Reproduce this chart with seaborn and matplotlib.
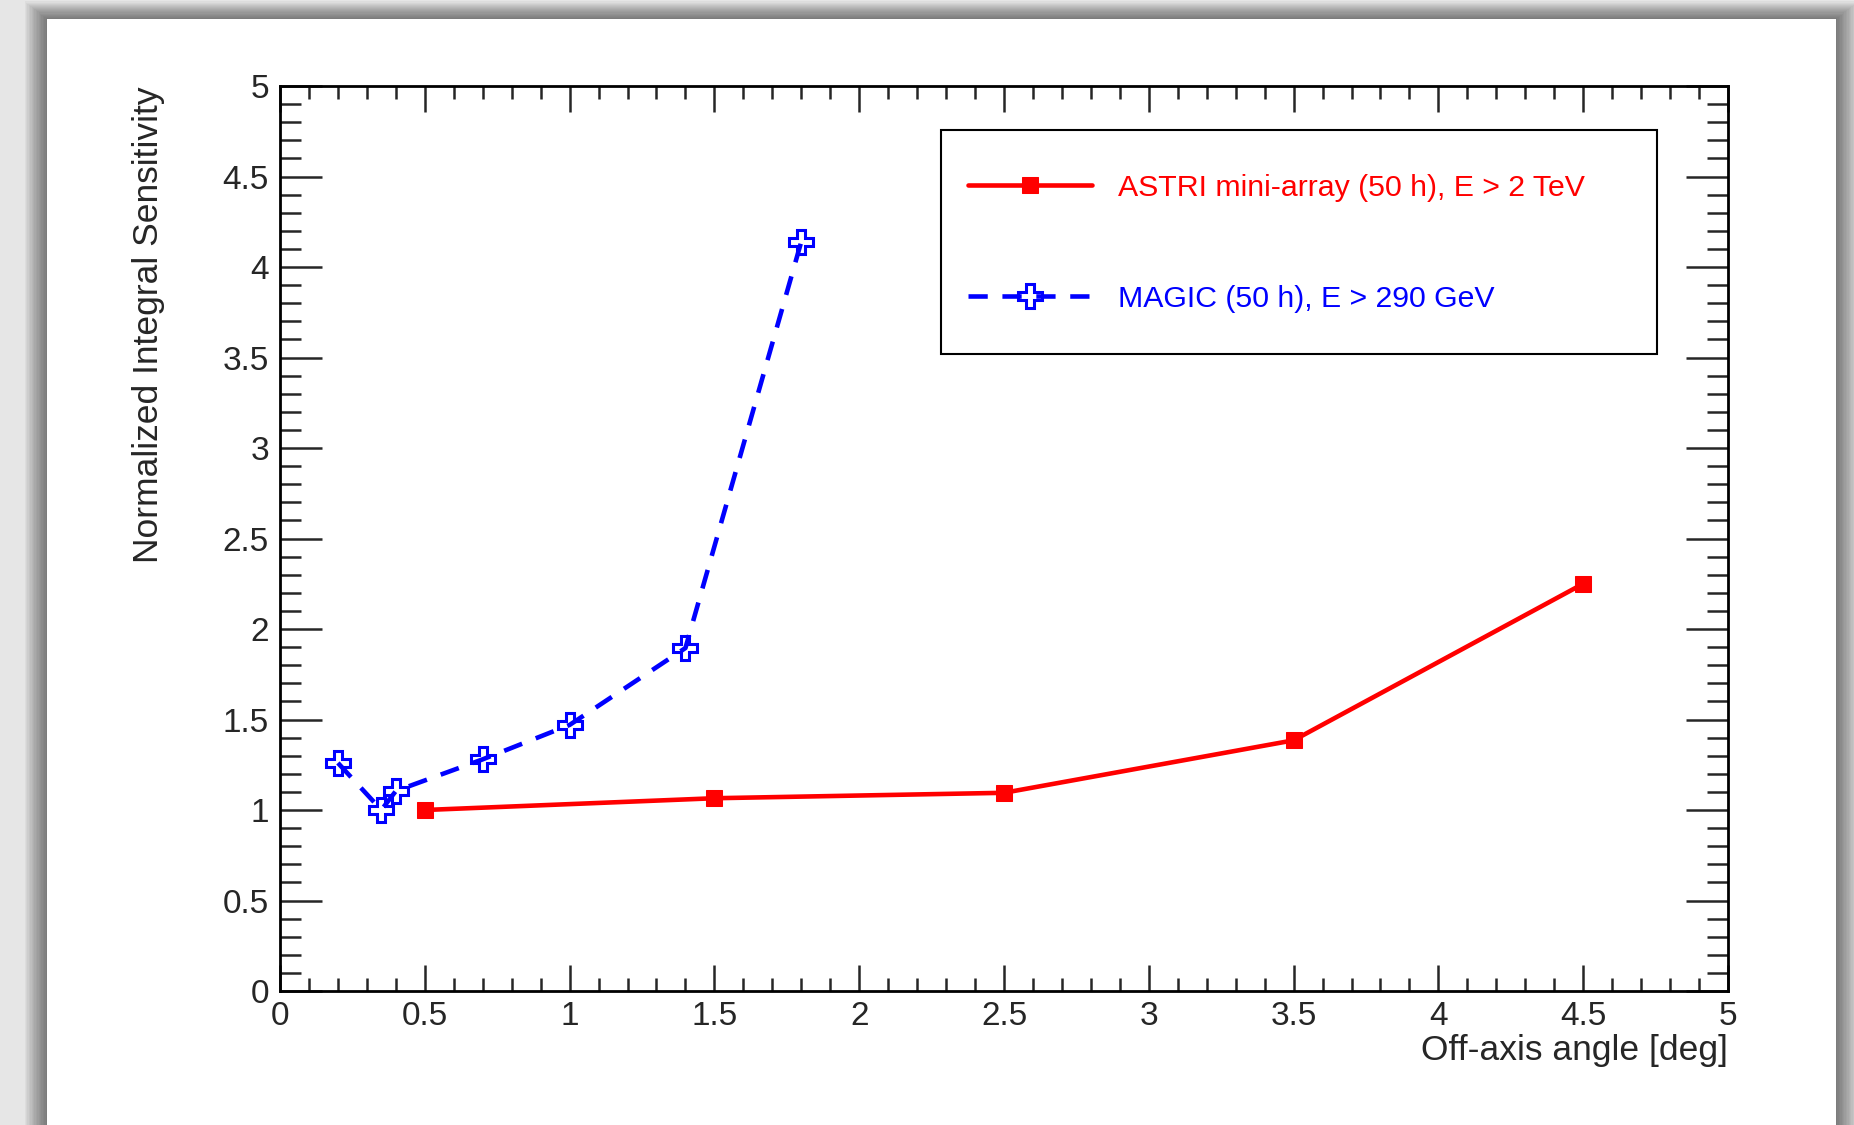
import seaborn as sns
import matplotlib.pyplot as plt
import matplotlib.patches as mpatches
from matplotlib.ticker import MultipleLocator, FormatStrFormatter
import pandas as pd

# ASTRI mini-array (50 h), E > 2 TeV
astri_angle = [0.5, 1.5, 2.5, 3.5, 4.5]
astri_sens = [1.0, 1.065, 1.095, 1.385, 2.25]

# MAGIC (50 h), E > 290 GeV
magic_angle = [0.2, 0.35, 0.4, 0.7, 1.0, 1.4, 1.8]
magic_sens = [1.26, 1.0, 1.105, 1.28, 1.47, 1.895, 4.14]

astri_label = 'ASTRI mini-array (50 h), E > 2 TeV'
magic_label = 'MAGIC (50 h), E > 290 GeV'

sns.set_style('white')
plt.rcParams['font.family'] = ['Liberation Sans', 'DejaVu Sans']

df_astri = pd.DataFrame({'angle': astri_angle, 'sens': astri_sens})
df_magic = pd.DataFrame({'angle': magic_angle, 'sens': magic_sens})

fig = plt.figure(figsize=(18.54, 11.25), dpi=100)
fig.patch.set_facecolor('#e6e6e6')

# grey "shadow" frame around the white canvas (ROOT screenshot look)
cx0, cy0, cx1, cy1 = 47 / 1854, -0.02, 1836 / 1854, 1 - 19 / 1125
for i in range(16, 0, -1):
    dx, dy = i * 1.4 / 1854, i * 1.1 / 1125
    fig.patches.append(mpatches.Rectangle((cx0 - dx, cy0 - dy), cx1 - cx0 + 2 * dx,
                                          cy1 - cy0 + 2 * dy, transform=fig.transFigure,
                                          facecolor='black', alpha=0.035, lw=0, zorder=-20))
fig.patches.append(mpatches.Rectangle((cx0, cy0), cx1 - cx0, cy1 - cy0,
                                      transform=fig.transFigure, facecolor='white',
                                      lw=0, zorder=-10))

ax = fig.add_axes([0.15103, 0.11911, 0.78101, 0.80444])
ax.set_facecolor('white')

sns.lineplot(data=df_astri, x='angle', y='sens', ax=ax, color='red', lw=3.3,
             marker='s', markersize=11, markeredgecolor='red', markerfacecolor='red',
             label=astri_label)
sns.lineplot(data=df_magic, x='angle', y='sens', ax=ax, color='blue', lw=3.3,
             marker='P', markersize=17, markeredgecolor='blue', markerfacecolor='none',
             markeredgewidth=2.2, label=magic_label)
ax.lines[-1].set_dashes((4.2, 3.2))

ax.set_xlim(0, 5)
ax.set_ylim(0, 5)
ax.xaxis.set_major_locator(MultipleLocator(0.5))
ax.xaxis.set_minor_locator(MultipleLocator(0.1))
ax.yaxis.set_major_locator(MultipleLocator(0.5))
ax.yaxis.set_minor_locator(MultipleLocator(0.1))
ax.xaxis.set_major_formatter(FormatStrFormatter('%g'))
ax.yaxis.set_major_formatter(FormatStrFormatter('%g'))

ax.tick_params(axis='x', which='both', direction='in', top=True, bottom=True,
               width=1.8, labelsize=24, pad=7)
ax.tick_params(axis='x', which='major', length=18.7)
ax.tick_params(axis='x', which='minor', length=9.4)
ax.tick_params(axis='y', which='both', direction='in', left=True, right=True,
               width=1.8, labelsize=24, pad=8)
ax.tick_params(axis='y', which='major', length=30)
ax.tick_params(axis='y', which='minor', length=15)
for sp in ax.spines.values():
    sp.set_linewidth(2)
    sp.set_color('black')

ax.set_xlabel('Off-axis angle [deg]', fontsize=25.5, loc='right')
ax.set_ylabel('Normalized Integral Sensitivity', fontsize=25.5, loc='top')
ax.xaxis.set_label_coords(1.0, -0.047)
ax.yaxis.set_label_coords(-0.0796, 1.0)

# legend frame drawn separately so the entries can sit close to its left edge
ax.add_patch(mpatches.Rectangle((941 / 1854, 1 - 354 / 1125), 716 / 1854, 224 / 1125,
                                transform=fig.transFigure, facecolor='white',
                                edgecolor='black', lw=1.5, zorder=5, clip_on=False))
leg = ax.legend(loc='upper left', bbox_to_anchor=(968 / 1854, 1 - 174 / 1125),
                bbox_transform=fig.transFigure, borderaxespad=0, borderpad=0,
                fontsize=21.8, frameon=False, labelspacing=2.73,
                handlelength=4.1, handletextpad=0.85)
leg.set_zorder(6)
for txt, col in zip(leg.get_texts(), ['red', 'blue']):
    txt.set_color(col)

fig.savefig('out.png', dpi=100, facecolor=fig.get_facecolor())
